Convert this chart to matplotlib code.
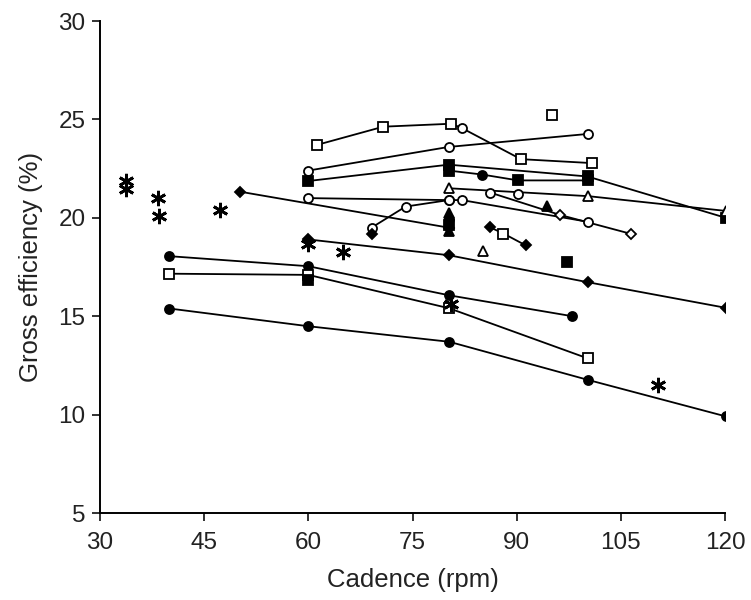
import matplotlib
matplotlib.use("Agg")
import matplotlib.pyplot as plt

plt.rcParams["font.family"] = ["Liberation Sans", "DejaVu Sans"]

# connected study series: cadence (rpm), gross efficiency (%), marker per point
# marker codes: lower case = open, upper case = filled
l1_x = [61.2, 70.8, 80.6, 82.1, 90.6, 100.8]
l1_y = [23.7, 24.63, 24.78, 24.56, 22.98, 22.78]
l1_m = "sssoss"
l2_x = [60, 80.2, 100.2]
l2_y = [22.4, 23.6, 24.26]
l2_m = "ooo"
l3_x = [60, 80.2, 100.2, 120.1]
l3_y = [21.87, 22.7, 22.1, 20.0]
l3_m = "SSSS"
l4_x = [80.2, 85, 90.2, 100.2]
l4_y = [22.4, 22.2, 21.9, 21.9]
l4_m = "SOSS"
l5_x = [80.3, 100.3, 120.1]
l5_y = [21.5, 21.1, 20.35]
l5_m = "^^^"
l6_x = [60, 80.2, 82.1, 100.2]
l6_y = [21.0, 20.9, 20.9, 19.8]
l6_m = "oooo"
l7_x = [86.2, 96.2, 106.5]
l7_y = [21.28, 20.15, 19.18]
l7_m = "odd"
l8_x = [69.1, 74.0, 80.2]
l8_y = [19.5, 20.57, 20.9]
l8_m = "ooo"
l9_x = [50.1, 80.2]
l9_y = [21.33, 19.5]
l9_m = "DD"
l10_x = [60, 80.2, 100.2, 120.2]
l10_y = [18.9, 18.1, 16.73, 15.42]
l10_m = "DDDD"
l11_x = [86.2, 88.1, 91.3]
l11_y = [19.51, 19.2, 18.6]
l11_m = "DsD"
l12_x = [40, 60, 80.3, 98]
l12_y = [18.05, 17.54, 16.06, 15.0]
l12_m = "OOOO"
l13_x = [40, 60, 80.3, 100.2]
l13_y = [17.16, 17.1, 15.4, 12.86]
l13_m = "ssss"
l14_x = [40, 60, 80.3, 100.2, 120.1]
l14_y = [15.39, 14.49, 13.7, 11.77, 9.91]
l14_m = "OOOOO"

# single observations (no line)
pt_x = [95.1, 90.2, 69.2, 85.1, 94.3, 97.2, 60, 80.2, 80.2, 80.2, 80.2]
pt_y = [25.24, 21.2, 19.2, 18.33, 20.6, 17.74, 16.85, 20.25, 19.95, 19.65, 19.35]
pt_m = "soD^ASSAOSA"

# asterisk studies
ast_x = [33.7, 33.7, 38.3, 38.5, 47.3, 60, 65.0, 80.5, 110.3]
ast_y = [21.87, 21.45, 21.0, 20.1, 20.4, 18.67, 18.25, 15.6, 11.5]

LINES = [
    (l1_x, l1_y, l1_m), (l2_x, l2_y, l2_m), (l3_x, l3_y, l3_m),
    (l4_x, l4_y, l4_m), (l5_x, l5_y, l5_m), (l6_x, l6_y, l6_m),
    (l7_x, l7_y, l7_m), (l8_x, l8_y, l8_m), (l9_x, l9_y, l9_m),
    (l10_x, l10_y, l10_m), (l11_x, l11_y, l11_m), (l12_x, l12_y, l12_m),
    (l13_x, l13_y, l13_m), (l14_x, l14_y, l14_m),
]

SHAPE = {"s": ("s", 6.5), "o": ("o", 6.5), "d": ("D", 5.5), "^": ("^", 7)}


def draw_marker(ax, x, y, code):
    shape, size = SHAPE[{"A": "^"}.get(code, code.lower())]
    face = "black" if code.isupper() else "white"
    ax.plot(x, y, ls="none", marker=shape, ms=size, mfc=face, mec="black",
            mew=1.3, zorder=3)


fig = plt.figure(figsize=(7.51, 6.0), dpi=100)
ax = fig.add_axes([0.1332, 0.145, 0.8322, 0.82])

for xs, ys, ms in LINES:
    ax.plot(xs, ys, color="black", lw=1.3, zorder=2)
    for x, y, m in zip(xs, ys, ms):
        draw_marker(ax, x, y, m)

for x, y, m in zip(pt_x, pt_y, pt_m):
    draw_marker(ax, x, y, m)

ax.plot(ast_x, ast_y, ls="none", marker=(6, 2, 0), ms=11, mec="black",
        mew=2.0, zorder=3)

ax.set_xlim(30, 120)
ax.set_ylim(5, 30)
ax.set_xticks(range(30, 121, 15))
ax.set_yticks(range(5, 31, 5))
ax.spines["top"].set_visible(False)
ax.spines["right"].set_visible(False)
for s in ("left", "bottom"):
    ax.spines[s].set_linewidth(1.4)
ax.tick_params(direction="out", length=5.5, width=1.3, labelsize=17.5,
               pad=5, colors="#222222")
ax.tick_params(axis="x", pad=8)
ax.set_xlabel("Cadence (rpm)", fontsize=18.5, labelpad=10, color="#222222")
ax.set_ylabel("Gross efficiency (%)", fontsize=18.5, labelpad=11,
              color="#222222")

fig.savefig("out.png", dpi=100)
